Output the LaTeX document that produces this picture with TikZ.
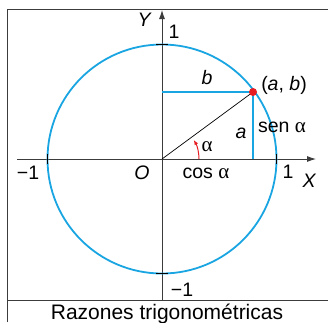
\documentclass[tikz,border=0pt]{standalone}
\usepackage{fontspec}
\setmainfont{Liberation Sans}
\newfontfamily\grk{Liberation Serif}
\usetikzlibrary{arrows.meta}
\definecolor{cblue}{RGB}{25,165,225}
\definecolor{cred}{RGB}{230,30,35}
\definecolor{cgray}{RGB}{60,60,60}
\tikzset{
  frameline/.style={draw=cgray, line width=0.9pt},
  axisline/.style={draw=cgray, line width=0.9pt, -{Latex[length=9pt,width=6pt]}},
  tickline/.style={draw=black, line width=0.9pt},
  lbl/.style={inner sep=0pt, font=\fontsize{19.5}{22}\selectfont},
  ilbl/.style={lbl, font=\fontsize{19.5}{22}\selectfont\itshape},
}
\newcommand{\alp}{{\grk\fontsize{21}{22}\selectfont α}}
\begin{document}
\begin{tikzpicture}[x=1pt,y=-1pt]
\useasboundingbox (0,0) rectangle (328,322);
% frame
\draw[frameline] (7,322) -- (7,9) -- (328,9);
\draw[frameline] (7,300) -- (328,300);
% axes
\coordinate (O) at (162,159);
\coordinate (xs) at (17,159);
\coordinate (xe) at (316,159);
\coordinate (ys) at (162,300);
\coordinate (ye) at (162,10);
\draw[axisline] (xs) -- (xe);
\draw[axisline] (ys) -- (ye);
% circle
\draw[cblue, line width=1.8pt] (O) circle (114.5);
% ticks
\draw[tickline] (47.5,154) -- (47.5,164);
\draw[tickline] (276.5,154) -- (276.5,164);
\draw[tickline] (156,44.5) -- (168,44.5);
\draw[tickline] (156,273.5) -- (168,273.5);
% point and projections
\coordinate (P) at (253,92);
\coordinate (Py) at (162,92);
\coordinate (Px) at (253,159);
\draw[cblue, line width=2.8pt] (Py) -- (P) -- (Px);
\draw[black, line width=0.7pt] (O) -- (P);
\fill[cred] (P) circle (4);
% angle arc
\draw[cred, line width=1pt, -{Latex[length=5pt,width=4pt]}] (199,159) arc (0:-31:37);
% labels
\node[ilbl] (lY) at (144,20) {Y};
\node[lbl] (l1t) at (174,32) {1};
\node[ilbl] (lb) at (207,78) {b};
\node[lbl] (lab) at (284,85) {(\textit{a}, \textit{b})};
\node[lbl] (lsen) at (282,127) {sen \alp};
\node[ilbl] (la) at (241,133) {a};
\node[lbl] (lal) at (207,147) {\alp};
\node[lbl] (lm1) at (28,173) {−1};
\node[ilbl] (lO) at (142,173) {O};
\node[lbl] (lcos) at (206,173) {cos \alp};
\node[lbl] (l1r) at (288,172) {1};
\node[ilbl] (lX) at (309,181) {X};
\node[lbl] (lm1b) at (182,290) {−1};
\node[lbl, font=\fontsize{21}{24}\selectfont] (cap) at (167,314) {Razones trigonométricas};
\end{tikzpicture}
\end{document}
